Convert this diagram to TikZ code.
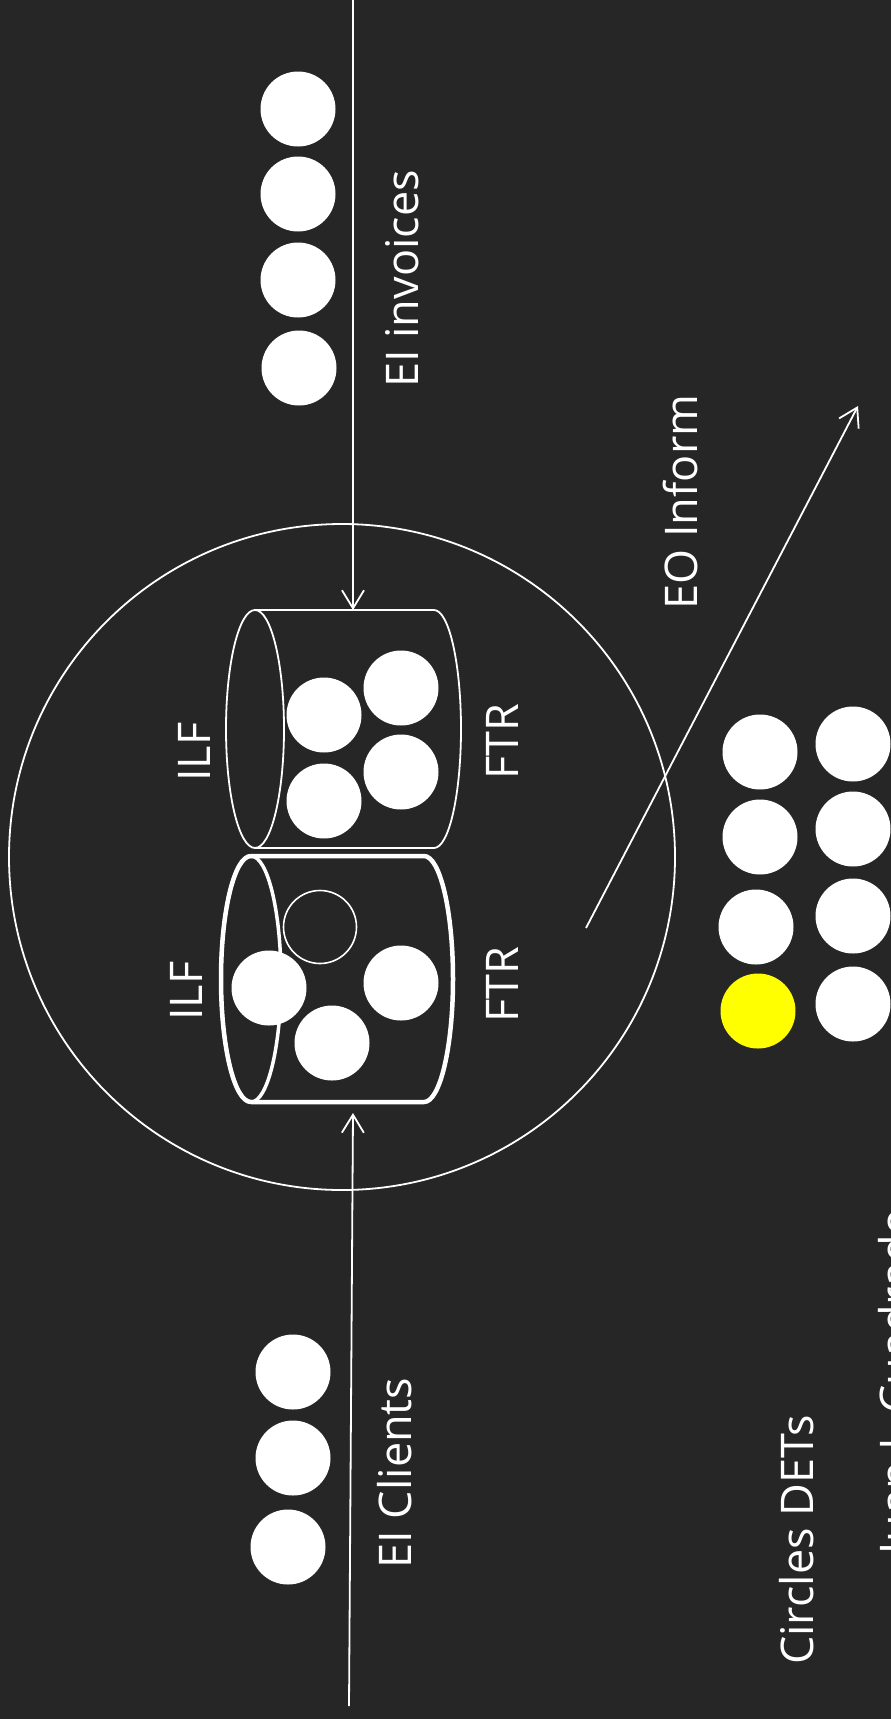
\documentclass[tikz,border=0pt]{standalone}
\usepackage{fontspec}
\newfontfamily\osans{Open Sans}
\usetikzlibrary{arrows.meta}
\definecolor{bgc}{RGB}{38,38,38}
\definecolor{detyellow}{RGB}{255,255,0}
\begin{document}
\begin{tikzpicture}[x=1pt,y=-1pt,
  dot/.style={circle,fill=white,inner sep=0pt,minimum size=75pt},
  ydot/.style={dot,fill=detyellow},
  odot/.style={circle,draw=white,line width=1.6pt,inner sep=0pt,minimum size=73pt},
  thin/.style={draw=white,line width=1.8pt},
  thick/.style={draw=white,line width=4.5pt,line join=round},
  arr/.style={draw=white,line width=1.8pt,-{Straight Barb[length=18pt,width=22pt,line width=1.8pt]}},
  lab/.style={text=white,font=\osans\fontsize{45}{54}\selectfont,rotate=90,anchor=base,inner sep=0pt}]
\useasboundingbox (0,0) rectangle (891,1719);
\clip (0,0) rectangle (891,1719);
\fill[bgc] (0,0) rectangle (891,1719);

% boundary circle
\node[circle,thin,inner sep=0pt,minimum size=666pt] (boundary) at (342,857) {};

% upper cylinder (thin)
\draw[thin] (255,729) ellipse [x radius=29, y radius=119];
\draw[thin] (255,610) -- (434,610)
  .. controls (448.9,610) and (461,663.3) .. (461,729)
  .. controls (461,794.7) and (448.9,848) .. (434,848) -- (255,848);
\coordinate (ilfAtop) at (353,610);

% lower cylinder (thick)
\draw[draw=white,line width=3.5pt] (251,979) ellipse [x radius=30, y radius=123];
\draw[thick] (251,856) -- (424,856)
  .. controls (440,856) and (453,911) .. (453,979)
  .. controls (453,1047) and (440,1102) .. (424,1102) -- (251,1102);
\draw[thick] (251,856) .. controls (234.4,856) and (221,911) .. (221,979)
  .. controls (221,1047) and (234.4,1102) .. (251,1102);
\coordinate (ilfBbot) at (353,1113);

% records in upper ILF
\node[dot] (a1) at (324,715) {};
\node[dot] (a2) at (324,801) {};
\node[dot] (a3) at (401,688) {};
\node[dot] (a4) at (401,772) {};

% records in lower ILF
\node[odot] (b0) at (320,927) {};
\node[dot] (b1) at (269,988) {};
\node[dot] (b2) at (332,1043) {};
\node[dot] (b3) at (401,983) {};

% EI invoices dots
\node[dot] (i1) at (298,109) {};
\node[dot] (i2) at (298,194) {};
\node[dot] (i3) at (298,280) {};
\node[dot] (i4) at (299,368) {};

% EI clients dots
\node[dot] (c1) at (293,1372) {};
\node[dot] (c2) at (293,1458) {};
\node[dot] (c3) at (288,1547) {};

% DET dots
\node[dot] (d1) at (760,752) {};
\node[dot] (d2) at (760,837) {};
\node[dot] (d3) at (756,927) {};
\node[ydot] (d4) at (758,1011) {};
\node[dot] (d5) at (853,744) {};
\node[dot] (d6) at (853,829) {};
\node[dot] (d7) at (853,916) {};
\node[dot] (d8) at (853,1004) {};

% arrows
\coordinate (invSrc) at (353,-2);
\coordinate (cliSrc) at (349,1706);
\coordinate (eoSrc) at (586,928);
\coordinate (eoDst) at (858,406);
\draw[arr] (invSrc) -- (ilfAtop);
\draw[arr] (cliSrc) -- (ilfBbot);
\draw[arr] (eoSrc) -- (eoDst);

% labels
\node[lab] (tInv) at (418,279) {EI invoices};
\node[lab] (tEO) at (697,502) {EO Inform};
\node[lab] (tILF1) at (210,752) {ILF};
\node[lab] (tFTR1) at (518,742) {FTR};
\node[lab] (tILF2) at (202,991) {ILF};
\node[lab] (tFTR2) at (518,985) {FTR};
\node[lab] (tCli) at (411,1473) {EI Clients};
\node[lab] (tDET) at (813,1540) {Circles DETs};
\node[lab] (tAut) at (912,1381) {Juan I. Cuadrado};
\end{tikzpicture}
\end{document}
